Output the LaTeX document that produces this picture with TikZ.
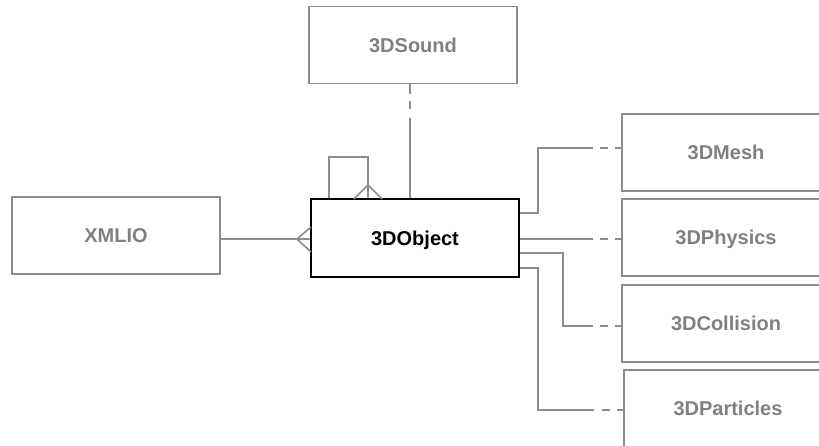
\documentclass[tikz,border=0pt]{standalone}
\usepackage{fontspec}
\setmainfont{Liberation Sans}
\definecolor{lgray}{RGB}{140,140,140}
\definecolor{tgray}{RGB}{128,128,128}
\begin{document}
\begin{tikzpicture}[x=1pt,y=-1pt,
  box/.style={draw=lgray,line width=1.6pt,rectangle,minimum width=208pt,minimum height=77pt,inner sep=0pt,
    text height=14.3pt,text depth=0pt,
    font=\fontsize{20}{24}\selectfont\bfseries,text=tgray},
  mainbox/.style={draw=black,line width=2pt,rectangle,minimum width=208pt,minimum height=78pt,inner sep=0pt,
    text height=14.3pt,text depth=0pt,
    font=\fontsize{20}{24}\selectfont\bfseries,text=black,fill=white},
  conn/.style={draw=lgray,line width=1.6pt},
  optl/.style={conn,dash pattern=on 6pt off 7pt on 8pt off 8pt}]
\useasboundingbox (0,0) rectangle (819,445);
\clip (0,0) rectangle (819,445);
% boxes
\node[box] (sound) at (413,45) {3DSound};
\node[box] (xml) at (116,235.5) {XMLIO};
\node[box] (mesh) at (726,152.5) {3DMesh};
\node[box] (phys) at (726,237.5) {3DPhysics};
\node[box] (coll) at (726,323.5) {3DCollision};
\node[box] (part) at (728,408.5) {3DParticles};
% helper coordinates
\coordinate (ym) at (0,148);
\coordinate (yp) at (0,239);
\coordinate (yc) at (0,326);
\coordinate (yq) at (0,410);
\coordinate (xs) at (410,0);
\coordinate (xb1) at (538,0);
\coordinate (xb2) at (563,0);
\coordinate (xd) at (593,0);
\coordinate (xf) at (297,0);
\coordinate (ys) at (0,118);
\coordinate (yo1) at (0,213);
\coordinate (yo3) at (0,253);
\coordinate (yo4) at (0,268);
\coordinate (yloop) at (0,157);
\coordinate (xl1) at (329,0);
\coordinate (xl2) at (368,0);
\coordinate (yfoot) at (0,185);
% main object
\node[mainbox] (obj) at (415,238) {3DObject};
% 3DSound
\draw[conn,dash pattern=on 10pt off 7pt on 8pt off 10pt] (sound.south -| xs) -- (xs |- ys);
\draw[conn] (xs |- ys) -- (obj.north -| xs);
% self loop
\draw[conn] (obj.north -| xl1) -- (xl1 |- yloop) -- (xl2 |- yloop) -- (obj.north -| xl2);
\draw[conn] (xl2 |- yfoot) -- ++(-14,14);
\draw[conn] (xl2 |- yfoot) -- ++(14,14);
% XMLIO
\draw[conn] (xml.east |- yp) -- (obj.west |- yp);
\draw[conn] (xf |- yp) -- ++(14,-12);
\draw[conn] (xf |- yp) -- ++(14,13);
% 3DMesh
\draw[conn] (obj.east |- yo1) -| (xb1 |- ym) -- (xd |- ym);
\draw[optl] (mesh.west |- ym) -- (xd |- ym);
% 3DPhysics
\draw[conn] (obj.east |- yp) -- (xd |- yp);
\draw[optl] (phys.west |- yp) -- (xd |- yp);
% 3DCollision
\draw[conn] (obj.east |- yo3) -| (xb2 |- yc) -- (xd |- yc);
\draw[optl] (coll.west |- yc) -- (xd |- yc);
% 3DParticles
\draw[conn] (obj.east |- yo4) -| (xb1 |- yq) -- (xd |- yq);
\draw[optl] (part.west |- yq) -- (xd |- yq);
\end{tikzpicture}
\end{document}
